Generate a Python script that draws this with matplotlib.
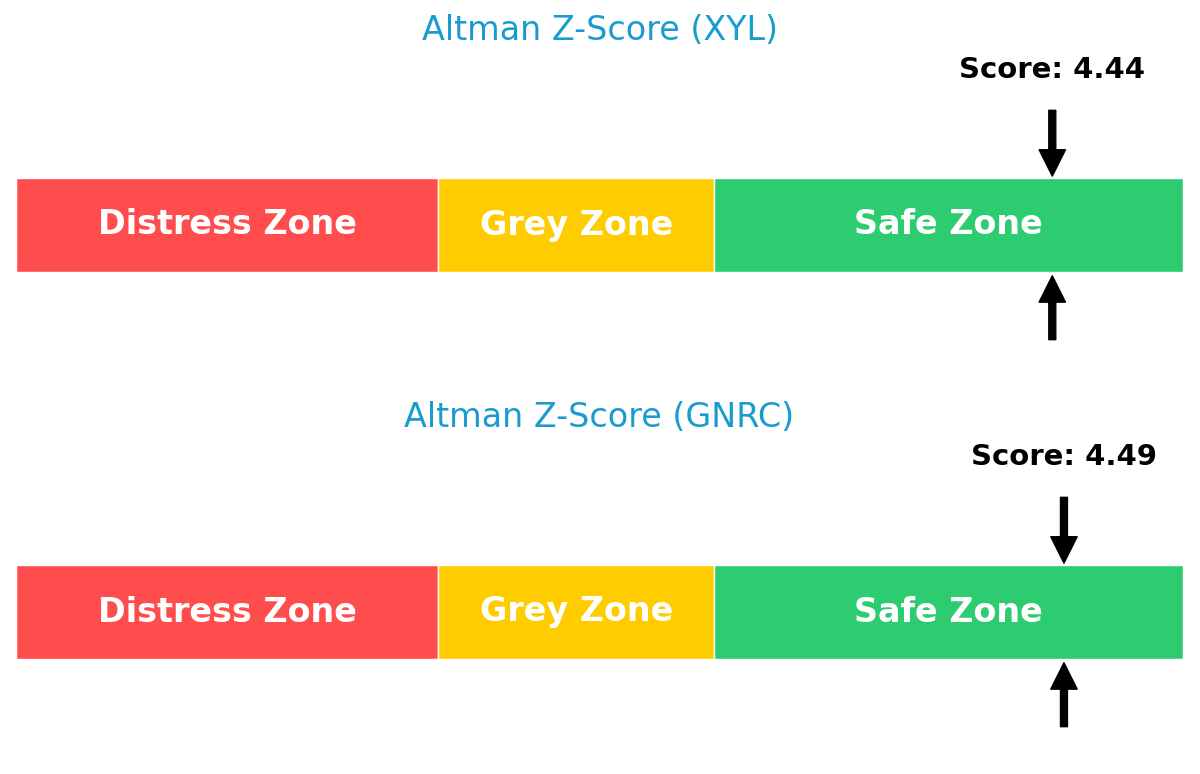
import matplotlib.pyplot as plt

# Datos
companies = ["XYL", "GNRC"]
scores = [4.44, 4.49]
zone_names = ["Distress Zone", "Grey Zone", "Safe Zone"]
zone_edges = [0, 1.81, 2.99, 5.0]
zone_colors = ["#ff4d4d", "#ffcc00", "#2ecc71"]
title_color = "#1a9bcf"

fig = plt.figure(figsize=(12, 7.74), dpi=100)

# cada panel: 1 unidad en y = 94 px
unit = 94 / 774
for i, (comp, score) in enumerate(zip(companies, scores)):
    center_px = 225 + i * 387
    half = 2.4
    ax = fig.add_axes([16 / 1200, 1 - (center_px + half * 94) / 774, 1167 / 1200, 2 * half * unit])
    ax.set_xlim(zone_edges[0], zone_edges[-1])
    ax.set_ylim(-half, half)
    ax.axis("off")

    for name, lo, hi, col in zip(zone_names, zone_edges[:-1], zone_edges[1:], zone_colors):
        ax.barh(0, hi - lo, left=lo, height=1, color=col, edgecolor="white", linewidth=1)
        ax.text((lo + hi) / 2, 0, name, ha="center", va="center",
                color="white", fontsize=24, fontweight="bold")

    ax.annotate("", xy=(score, 0.52), xytext=(score, 1.22),
                arrowprops=dict(facecolor="black", edgecolor="black",
                                width=5, headwidth=19, headlength=19))
    ax.annotate("", xy=(score, -0.54), xytext=(score, -1.22),
                arrowprops=dict(facecolor="black", edgecolor="black",
                                width=5, headwidth=19, headlength=19))
    ax.text(score, 1.65, f"Score: {score:.2f}", ha="center", va="center",
            fontsize=21, fontweight="bold", color="black")
    ax.text(2.5, 2.07, f"Altman Z-Score ({comp})", ha="center", va="center",
            fontsize=24, color=title_color)

plt.savefig("out.png", dpi=100)
